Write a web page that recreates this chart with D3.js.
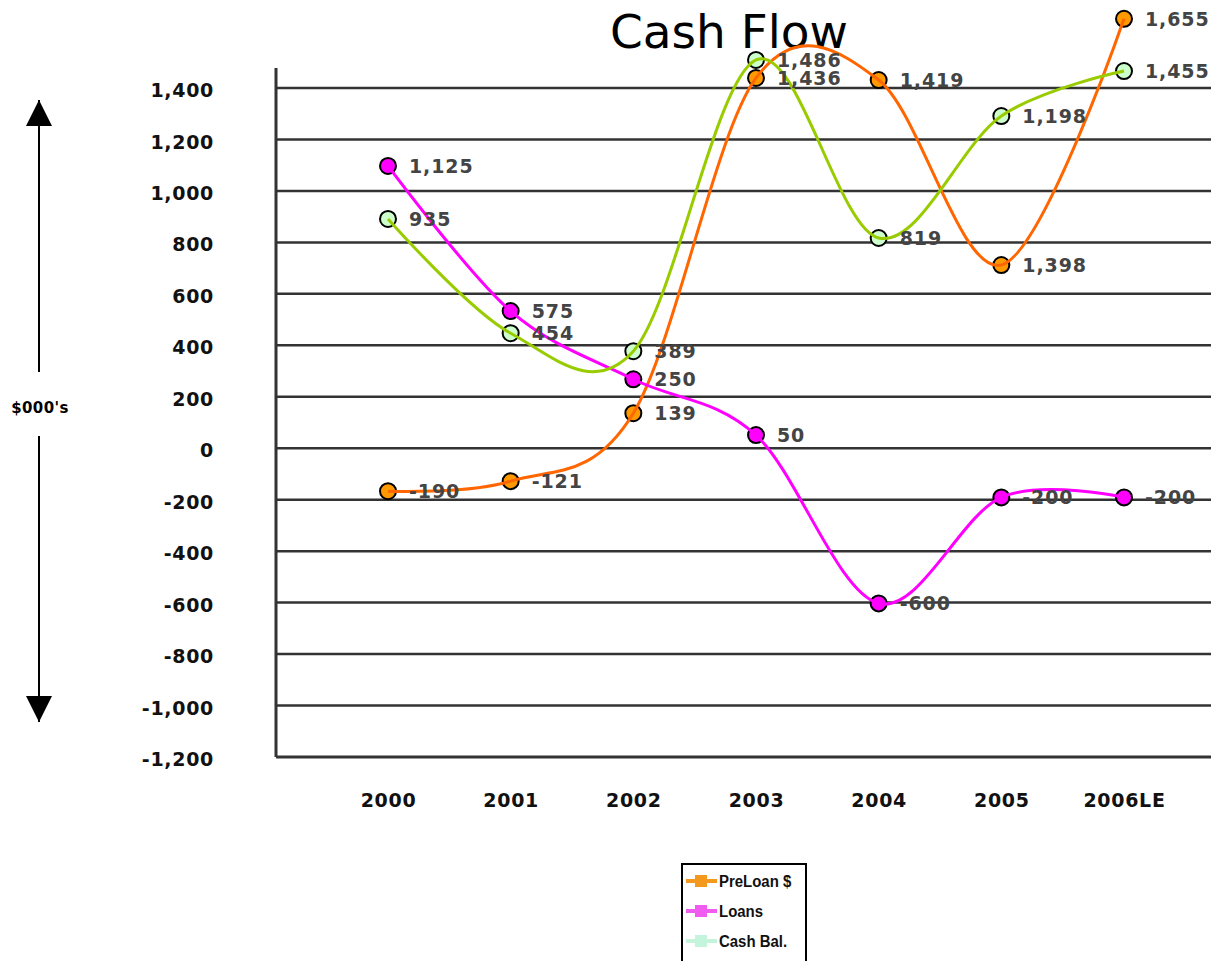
<!DOCTYPE html>
<html>
<head>
<meta charset="utf-8">
<script src="https://cdn.jsdelivr.net/npm/d3@7"></script>
<style>
  body { margin: 0; background: #fff; }
  text { font-family: "DejaVu Sans", Verdana, sans-serif; }
</style>
</head>
<body>
<svg width="1211" height="961"></svg>
<script>
// categories and series (plotted values, labels as printed)
const years = ["2000", "2001", "2002", "2003", "2004", "2005", "2006LE"];
const preLoan = [-167, -128, 136, 1439, 1431, 712, 1669];
const loans = [1097, 533, 268, 51, -603, -191, -191];
const cashBal = [891, 447, 377, 1509, 817, 1291, 1466];
const preLoanLabels = ["-190", "-121", "139", "1,436", "1,419", "1,398", "1,655"];
const loansLabels = ["1,125", "575", "250", "50", "-600", "-200", "-200"];
const cashLabels = ["935", "454", "389", "1,486", "819", "1,198", "1,455"];
const yTicks = [-1200, -1000, -800, -600, -400, -200, 0, 200, 400, 600, 800, 1000, 1200, 1400];

const series = [
    {name: "PreLoan $", values: preLoan, labels: preLoanLabels, line: "#ff6600", fill: "#ff9900", legend: "#f39a1e"},
    {name: "Loans", values: loans, labels: loansLabels, line: "#ff00ff", fill: "#ff00ff", legend: "#f05cf0"},
    {name: "Cash Bal.", values: cashBal, labels: cashLabels, line: "#99cc00", fill: "#ccffcc", legend: "#c4f5dc"}
];

let svg = d3.select("svg");

const plotLeft = 276, plotRight = 1211;

let x = d3.scalePoint().domain(years).range([388, 1124]);
let y = d3.scaleLinear().domain([-1200, 1400]).range([757, 88]);

const fmt = d => d3.format(",")(d).replace("\u2212", "-");

// title
svg.append("text")
    .attr("x", 729).attr("y", 48)
    .attr("text-anchor", "middle")
    .attr("font-size", 47)
    .text("Cash Flow");

// horizontal grid lines
svg.append("g")
    .selectAll("line")
    .data(yTicks.filter(d => d > -1200))
    .enter().append("line")
    .attr("x1", plotLeft).attr("x2", plotRight)
    .attr("y1", d => y(d)).attr("y2", d => y(d))
    .attr("stroke", "#333")
    .attr("stroke-width", 2.5);

// y axis
let yAxis = svg.append("g")
    .attr("transform", "translate(" + plotLeft + ",0)")
    .call(d3.axisLeft(y).tickValues(yTicks).tickSize(0).tickPadding(62).tickFormat(fmt));
yAxis.select(".domain").remove();
yAxis.selectAll("text")
    .attr("font-size", 19)
    .attr("font-weight", "bold")
    .attr("letter-spacing", 0.7)
    .attr("fill", "#111")
    .attr("dy", "0.45em");

// frame lines (left and bottom)
svg.append("line")
    .attr("x1", plotLeft).attr("x2", plotLeft)
    .attr("y1", y(1400) - 20).attr("y2", y(-1200))
    .attr("stroke", "#333").attr("stroke-width", 3);
svg.append("line")
    .attr("x1", plotLeft).attr("x2", plotRight)
    .attr("y1", y(-1200)).attr("y2", y(-1200))
    .attr("stroke", "#333").attr("stroke-width", 3);

// x axis labels
let xAxis = svg.append("g")
    .attr("transform", "translate(0," + y(-1200) + ")")
    .call(d3.axisBottom(x).tickSize(0).tickPadding(37));
xAxis.select(".domain").remove();
xAxis.selectAll("text")
    .attr("font-size", 19)
    .attr("font-weight", "bold")
    .attr("letter-spacing", 0.7)
    .attr("fill", "#111");

// left arrows and unit label
svg.append("defs").append("marker")
    .attr("id", "arrow")
    .attr("viewBox", "0 0 10 10")
    .attr("refX", 10).attr("refY", 5)
    .attr("markerWidth", 26).attr("markerHeight", 26)
    .attr("markerUnits", "userSpaceOnUse")
    .attr("orient", "auto")
    .append("path").attr("d", "M0,0 L10,5 L0,10 Z").attr("fill", "#000");

svg.append("line")
    .attr("x1", 39).attr("x2", 39).attr("y1", 372).attr("y2", 100)
    .attr("stroke", "#000").attr("stroke-width", 2)
    .attr("marker-end", "url(#arrow)");
svg.append("line")
    .attr("x1", 39).attr("x2", 39).attr("y1", 436).attr("y2", 722)
    .attr("stroke", "#000").attr("stroke-width", 2)
    .attr("marker-end", "url(#arrow)");
svg.append("text")
    .attr("x", 40).attr("y", 413)
    .attr("text-anchor", "middle")
    .attr("font-size", 15)
    .attr("font-weight", "bold")
    .attr("letter-spacing", 0.4)
    .text("$000's");

// series
let line = d3.line()
    .x((d, i) => x(years[i]))
    .y(d => y(d))
    .curve(d3.curveCardinal.tension(0));

series.forEach(s => {
    let g = svg.append("g");
    g.selectAll("circle")
        .data(s.values)
        .enter().append("circle")
        .attr("cx", (d, i) => x(years[i]))
        .attr("cy", d => y(d))
        .attr("r", 8)
        .attr("fill", s.fill)
        .attr("stroke", "#000")
        .attr("stroke-width", 2);
    g.append("path")
        .datum(s.values)
        .attr("d", line)
        .attr("fill", "none")
        .attr("stroke", s.line)
        .attr("stroke-width", 3);
});

// data labels
series.forEach(s => {
    svg.append("g")
        .selectAll("text")
        .data(s.values)
        .enter().append("text")
        .attr("x", (d, i) => x(years[i]) + 21)
        .attr("y", d => y(d) + 7)
        .attr("font-size", 19)
        .attr("font-weight", "bold")
        .attr("letter-spacing", 0.9)
        .attr("fill", "#444")
        .text((d, i) => s.labels[i]);
});

// legend
let legend = svg.append("g").attr("transform", "translate(682,864)");
legend.append("rect")
    .attr("width", 124).attr("height", 110)
    .attr("fill", "#fff")
    .attr("stroke", "#000")
    .attr("stroke-width", 2);
let items = legend.selectAll(".item")
    .data(series)
    .enter().append("g")
    .attr("class", "item")
    .attr("transform", (d, i) => "translate(0," + (17 + i * 30) + ")");
items.append("line")
    .attr("x1", 4).attr("x2", 35)
    .attr("stroke", d => d.legend)
    .attr("stroke-width", 4);
items.append("rect")
    .attr("x", 13).attr("y", -6).attr("width", 12).attr("height", 12)
    .attr("fill", d => d.legend);
items.append("text")
    .attr("transform", "translate(37,6) scale(0.88,1)")
    .style("font-family", "'Liberation Sans', Arial, sans-serif")
    .attr("font-size", 17)
    .attr("font-weight", "bold")
    .attr("fill", "#111")
    .text(d => d.name);
</script>
</body>
</html>
